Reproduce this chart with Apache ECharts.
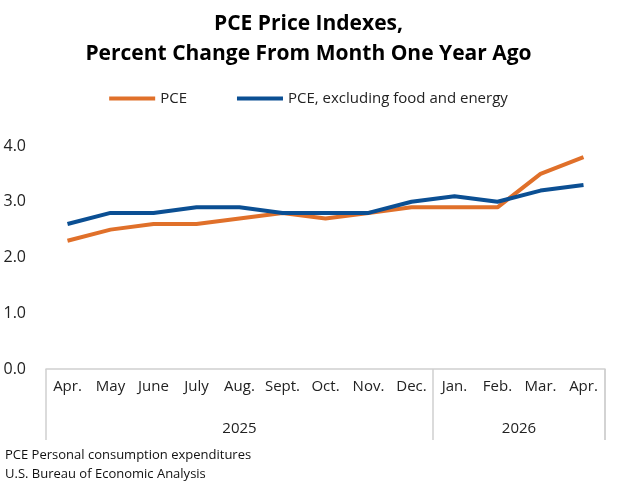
<!DOCTYPE html>
<html><head><meta charset="utf-8">
<script src="https://cdn.jsdelivr.net/npm/echarts@6/dist/echarts.min.js"></script>
<style>html,body{margin:0;background:#fff}#container{width:617px;height:493px}</style>
</head><body><div id="container"></div>
<script>
var months = ['Apr.', 'May', 'June', 'July', 'Aug.', 'Sept.', 'Oct.', 'Nov.', 'Dec.', 'Jan.', 'Feb.', 'Mar.', 'Apr.'];
var pce = [2.3, 2.5, 2.6, 2.6, 2.7, 2.8, 2.7, 2.8, 2.9, 2.9, 2.9, 3.5, 3.8];
var pceCore = [2.6, 2.8, 2.8, 2.9, 2.9, 2.8, 2.8, 2.8, 3.0, 3.1, 3.0, 3.2, 3.3];
var yearLabels = ['2025', '2026'];

var font = '"Open Sans", sans-serif';
var dom = document.getElementById('container');
var myChart = echarts.init(dom, null, { renderer: 'canvas' });

var option = {
  animation: false,
  textStyle: { fontFamily: font },
  title: {
    text: 'PCE Price Indexes,\nPercent Change From Month One Year Ago',
    left: 'center', top: 4,
    textStyle: { fontSize: 21, fontWeight: 'bold', color: '#000', lineHeight: 30, fontFamily: font }
  },
  legend: {
    top: 86, left: 'center', itemGap: 50, itemWidth: 46, itemHeight: 4,
    icon: 'rect',
    textStyle: { fontSize: 15, color: '#222' },
    data: ['PCE', 'PCE, excluding food and energy']
  },
  grid: { left: 46, right: 12, top: 146, bottom: 124 },
  xAxis: {
    type: 'category', data: months, boundaryGap: true,
    axisLine: { lineStyle: { color: '#d0d0d0', width: 1.5 } },
    axisTick: { show: true, length: 71, lineStyle: { color: '#d0d0d0', width: 1.5 },
      interval: function (i) { return i === 0 || i === 9; } },
    axisLabel: { color: '#222', fontSize: 15, margin: 10, interval: 0 }
  },
  yAxis: {
    type: 'value', min: 0, max: 4, interval: 1,
    splitLine: { show: false }, axisLine: { show: false }, axisTick: { show: false },
    axisLabel: { color: '#222', fontSize: 16, margin: 20, formatter: function (v) { return v.toFixed(1); } }
  },
  series: [
    { name: 'PCE', type: 'line', data: pce, symbol: 'none', lineStyle: { width: 4, color: '#e0702a' }, itemStyle: { color: '#e0702a' } },
    { name: 'PCE, excluding food and energy', type: 'line', data: pceCore, symbol: 'none', lineStyle: { width: 4, color: '#0b4f93' }, itemStyle: { color: '#0b4f93' } }
  ]
};
myChart.setOption(option);

var x0 = myChart.convertToPixel({ xAxisIndex: 0 }, 0);
var x8 = myChart.convertToPixel({ xAxisIndex: 0 }, 8);
var x9 = myChart.convertToPixel({ xAxisIndex: 0 }, 9);
var x12 = myChart.convertToPixel({ xAxisIndex: 0 }, 12);
var yBase = myChart.convertToPixel({ yAxisIndex: 0 }, 0);
var half = (x9 - x8) / 2;
myChart.setOption({
  graphic: [
    { type: 'line', shape: { x1: x12 + half, y1: yBase, x2: x12 + half, y2: yBase + 71 }, style: { stroke: '#d0d0d0', lineWidth: 1.5 } },
    { type: 'text', x: (x0 + x8) / 2, y: yBase + 60, style: { text: yearLabels[0], font: '15px ' + font, fill: '#222', align: 'center', verticalAlign: 'middle' } },
    { type: 'text', x: (x9 + x12) / 2, y: yBase + 60, style: { text: yearLabels[1], font: '15px ' + font, fill: '#222', align: 'center', verticalAlign: 'middle' } },
    { type: 'text', left: 5, top: 446, style: { text: 'PCE Personal consumption expenditures\nU.S. Bureau of Economic Analysis', font: '13px ' + font, fill: '#111', lineHeight: 19 } }
  ]
});
window.addEventListener('resize', myChart.resize);
</script></body></html>
